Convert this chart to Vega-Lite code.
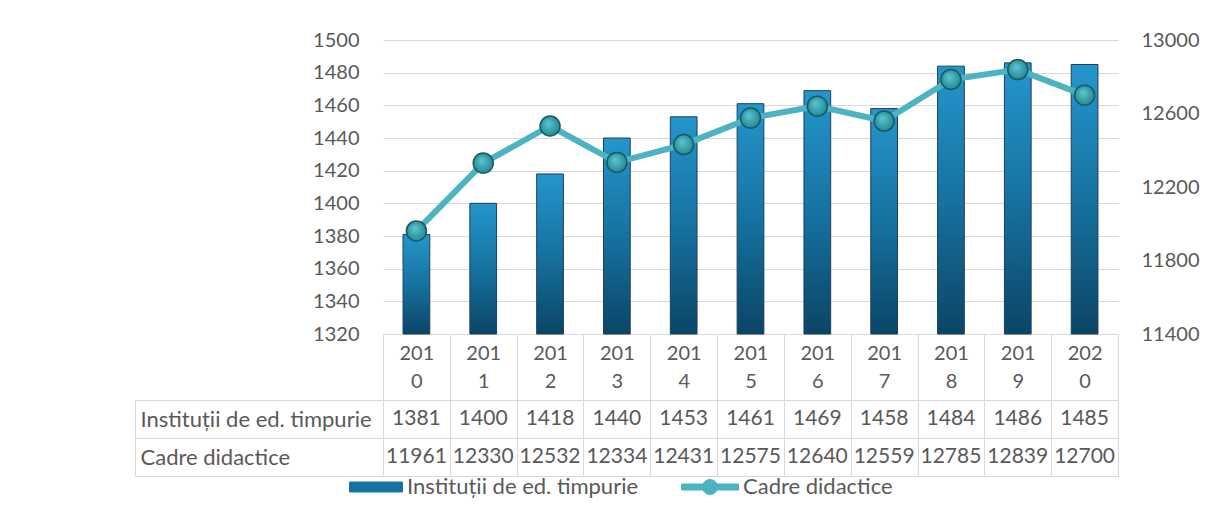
{
  "$schema": "https://vega.github.io/schema/vega-lite/v6.json",
  "background": "white",
  "padding": {"left": 134, "top": 30, "right": 5, "bottom": 5},
  "config": {
    "font": "Lato",
    "view": {"stroke": null},
    "axis": {"labelFont": "Lato", "labelFontSize": 20, "labelColor": "#595959", "titleFont": "Lato"},
    "legend": {"labelFont": "Lato", "labelFontSize": 22, "labelColor": "#595959"}
  },
  "data": {
    "values": [
      {"year": "2010", "inst": 1381, "cadre": 11961},
      {"year": "2011", "inst": 1400, "cadre": 12330},
      {"year": "2012", "inst": 1418, "cadre": 12532},
      {"year": "2013", "inst": 1440, "cadre": 12334},
      {"year": "2014", "inst": 1453, "cadre": 12431},
      {"year": "2015", "inst": 1461, "cadre": 12575},
      {"year": "2016", "inst": 1469, "cadre": 12640},
      {"year": "2017", "inst": 1458, "cadre": 12559},
      {"year": "2018", "inst": 1484, "cadre": 12785},
      {"year": "2019", "inst": 1486, "cadre": 12839},
      {"year": "2020", "inst": 1485, "cadre": 12700}
    ]
  },
  "bounds": "flush",
  "spacing": 66,
  "vconcat": [
    {
      "width": 735,
      "height": 294,
      "layer": [
        {
          "layer": [
            {
              "mark": {
                "type": "bar",
                "width": {"band": 0.4},
                "fill": {"gradient": "linear", "x1": 0, "y1": 0, "x2": 0, "y2": 1,
                  "stops": [{"offset": 0, "color": "#2496cc"}, {"offset": 0.5, "color": "#1672a0"}, {"offset": 1, "color": "#0b4566"}]},
                "stroke": "#1c3f5c",
                "strokeWidth": 1
              },
              "encoding": {
                "x": {
                  "field": "year", "type": "nominal",
                  "scale": {"paddingInner": 0, "paddingOuter": 0},
                  "axis": {
                    "title": null, "labelAngle": 0, "tickBand": "extent", "tickSize": 66,
                    "tickColor": "#d9d9d9", "domainColor": "#d9d9d9",
                    "labelPadding": -46.7, "labelBaseline": "middle", "labelLineHeight": 28.5,
                    "labelOverlap": false,
                    "labelExpr": "[substring(datum.label,0,3), substring(datum.label,3)]"
                  }
                },
                "y": {
                  "field": "inst", "type": "quantitative",
                  "scale": {"domain": [1320, 1500], "zero": false, "nice": false},
                  "axis": {
                    "title": null, "format": "d", "values": [1320, 1340, 1360, 1380, 1400, 1420, 1440, 1460, 1480, 1500],
                    "grid": true, "gridColor": "#d9d9d9", "domain": false, "ticks": false, "labelPadding": 24
                  }
                },
                "y2": {"datum": 1320}
              }
            }
          ]
        },
        {
          "layer": [
            {
              "mark": {"type": "line", "strokeWidth": 6},
              "encoding": {
                "x": {"field": "year", "type": "nominal"},
                "y": {
                  "field": "cadre", "type": "quantitative",
                  "scale": {"domain": [11400, 13000], "zero": false, "nice": false},
                  "axis": {
                    "title": null, "orient": "right", "format": "d",
                    "values": [11400, 11600, 11800, 12000, 12200, 12400, 12600, 12800, 13000],
                    "grid": false, "domain": false, "ticks": false, "labelPadding": 23
                  }
                },
                "color": {
                  "datum": "Cadre didactice", "type": "nominal",
                  "scale": {"domain": ["Instituții de ed. timpurie", "Cadre didactice"], "range": ["#1978a8", "#4bb3c1"]},
                  "legend": {
                    "title": null, "orient": "none", "direction": "horizontal",
                    "legendX": -6, "legendY": 434,
                    "columnPadding": 40, "labelOffset": 4, "symbolSize": 625, "labelLimit": 0,
                    "encode": {
                      "symbols": {
                        "update": {
                          "shape": {"signal": "datum.value === 'Cadre didactice' ? 'M-3.56,-0.24H1V0.24H-3.56Z M-0.68,0A0.6,0.6 0 1 1 -1.88,0A0.6,0.6 0 1 1 -0.68,0Z' : 'M-3.24,-0.4H1V0.4H-3.24Z'"},
                          "fill": {"signal": "datum.value === 'Cadre didactice' ? '#4bb3c1' : '#1672a0'"},
                          "stroke": {"signal": "datum.value === 'Cadre didactice' ? '#3a9aa6' : '#163f5c'"},
                          "strokeWidth": {"value": 1},
                          "opacity": {"value": 1},
                          "size": {"value": 625}
                        }
                      }
                    }
                  }
                }
              }
            },
            {
              "mark": {
                "type": "circle", "size": 400, "opacity": 1,
                "fill": {"gradient": "radial", "x1": 0.4, "y1": 0.35, "r1": 0, "x2": 0.5, "y2": 0.5, "r2": 0.6,
                  "stops": [{"offset": 0, "color": "#5cc8d2"}, {"offset": 1, "color": "#1d7f8a"}]},
                "stroke": "#1b5a62", "strokeWidth": 1.5
              },
              "encoding": {
                "x": {"field": "year", "type": "nominal"},
                "y": {"field": "cadre", "type": "quantitative"}
              }
            }
          ]
        }
      ],
      "resolve": {"scale": {"y": "independent"}}
    },
    {
      "width": 735,
      "height": 76,
      "view": {"stroke": "#d9d9d9"},
      "transform": [{"fold": ["inst", "cadre"], "as": ["row", "value"]}],
      "layer": [
        {
          "mark": {"type": "text", "font": "Lato", "fontSize": 21, "color": "#595959"},
          "encoding": {
            "x": {
              "field": "year", "type": "nominal",
              "scale": {"paddingInner": 0, "paddingOuter": 0},
              "axis": {"orient": "top", "title": null, "labels": false, "ticks": false, "domain": false,
                "grid": true, "gridColor": "#d9d9d9", "tickBand": "extent"}
            },
            "y": {
              "field": "row", "type": "nominal",
              "scale": {"domain": ["inst", "cadre"], "paddingInner": 0, "paddingOuter": 0},
              "axis": {
                "title": null, "grid": true, "gridColor": "#d9d9d9", "tickBand": "extent",
                "ticks": true, "tickSize": 248, "tickColor": "#d9d9d9",
                "domain": true, "domainColor": "#d9d9d9",
                "labelAlign": "left", "labelPadding": -5, "labelLimit": 0, "labelFontSize": 22,
                "labelExpr": "datum.value === 'inst' ? 'Instituții de ed. timpurie' : (datum.value === 'cadre' ? 'Cadre didactice' : '')"
              }
            },
            "text": {"field": "value", "type": "nominal"}
          }
        },
        {
          "mark": {"type": "text", "text": ""},
          "encoding": {
            "y": {
              "field": "row", "type": "nominal",
              "scale": {"domain": ["inst", "cadre"], "paddingInner": 0, "paddingOuter": 0},
              "axis": {"orient": "right", "offset": -983, "labels": false, "ticks": false, "grid": false,
                "domain": true, "domainColor": "#d9d9d9", "title": null}
            }
          }
        }
      ],
      "resolve": {"scale": {"y": "independent"}}
    }
  ]
}
